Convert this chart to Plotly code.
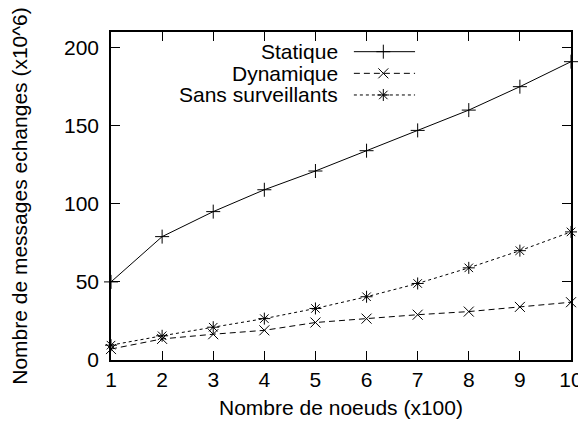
import plotly.graph_objects as go

nodes = [1, 2, 3, 4, 5, 6, 7, 8, 9, 10]
statique = [50, 79, 95, 109, 121, 134, 147, 160, 175, 191]
dynamique = [7, 13.5, 16.5, 19, 24, 26.5, 29, 31, 34, 37]
sans_surv = [9.5, 15.5, 21, 26.5, 33, 40.5, 49, 59, 70, 82]

series_names = ["Statique", "Dynamique", "Sans surveillants"]
x_ticks = [1, 2, 3, 4, 5, 6, 7, 8, 9, 10]
y_ticks = [0, 50, 100, 150, 200]

FONT = "Liberation Sans, Arial, sans-serif"
FS = 21
styles = [
    dict(dash="solid", symbol="cross-thin-open"),
    dict(dash="6px,4px", symbol="x-thin-open"),
    dict(dash="3px,3px", symbol="asterisk-open"),
]

fig = go.Figure()
for name, ys, st in zip(series_names, [statique, dynamique, sans_surv], styles):
    fig.add_trace(go.Scatter(
        x=nodes, y=ys, name=name, mode="lines+markers",
        line=dict(color="black", width=1, dash=st["dash"]),
        marker=dict(symbol=st["symbol"], size=10, color="black",
                    line=dict(color="black", width=1)),
        showlegend=False, cliponaxis=False,
    ))

# custom legend (text right-aligned, sample on the right, like gnuplot)
leg_y = [0.940, 0.874, 0.808]
for name, st, ly in zip(series_names, styles, leg_y):
    fig.add_annotation(xref="paper", yref="paper", x=0.498, y=ly, xanchor="right",
                       yanchor="middle", text=name, showarrow=False,
                       font=dict(family=FONT, size=FS, color="black"))
    fig.add_trace(go.Scatter(
        x=[0.528, 0.592, 0.661], y=[ly, ly, ly], xaxis="x2", yaxis="y2",
        mode="lines", line=dict(color="black", width=1, dash=st["dash"]),
        showlegend=False, hoverinfo="skip"))
    fig.add_trace(go.Scatter(
        x=[0.592], y=[ly], xaxis="x2", yaxis="y2", mode="markers",
        marker=dict(symbol=st["symbol"], size=10, color="black",
                    line=dict(color="black", width=1)),
        showlegend=False, hoverinfo="skip"))

axis_common = dict(showline=True, linecolor="black", linewidth=1.5, mirror="ticks",
                   ticks="inside", ticklen=9, tickwidth=1.2, tickcolor="black",
                   showgrid=False, zeroline=False, automargin=False,
                   tickfont=dict(family=FONT, size=FS, color="black"))

# page body has an 8px margin, so the figure is sized/offset to compensate
fig.update_layout(
    width=578, height=422,
    margin=dict(l=103, r=15, t=24, b=70),
    paper_bgcolor="white", plot_bgcolor="white",
    font=dict(family=FONT, size=FS, color="black"),
    xaxis=dict(range=[1, 10], tickvals=x_ticks,
               title=dict(text="Nombre de noeuds (x100)", standoff=10,
                          font=dict(family=FONT, size=FS)),
               **axis_common),
    yaxis=dict(range=[0, 210], tickvals=y_ticks, ticklabelstandoff=6,
               title=dict(text="Nombre de messages echanges (x10^6)", standoff=44,
                          font=dict(family=FONT, size=FS)),
               **axis_common),
    xaxis2=dict(domain=[0, 1], range=[0, 1], visible=False, overlaying="x"),
    yaxis2=dict(domain=[0, 1], range=[0, 1], visible=False, overlaying="y"),
)

fig.write_html("out.html")
